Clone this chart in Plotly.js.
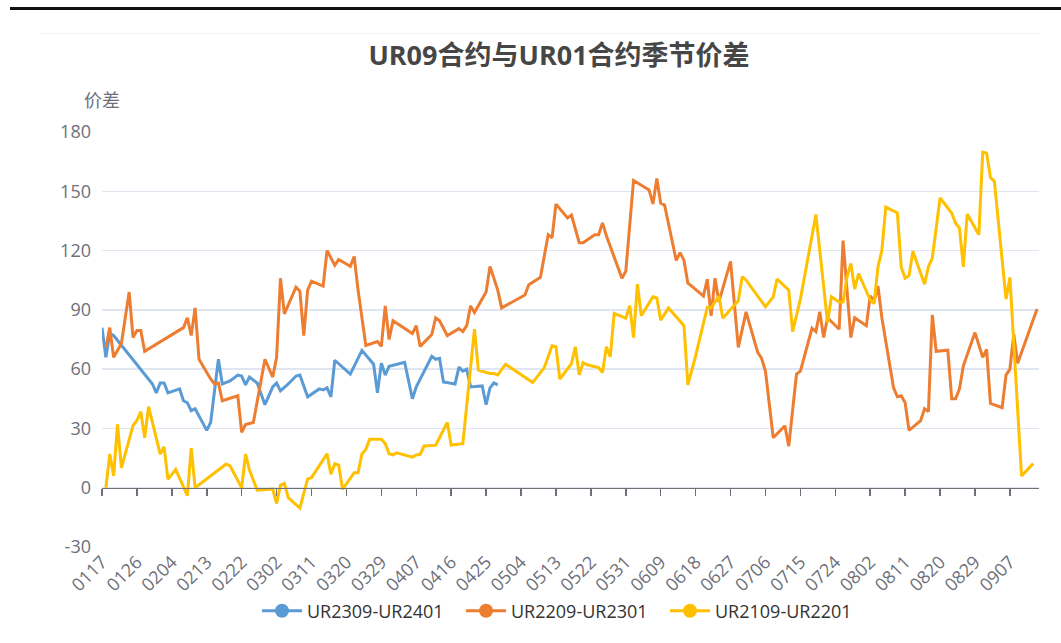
<!DOCTYPE html>
<html><head><meta charset="utf-8">
<script src="https://cdn.plot.ly/plotly-3.0.1.min.js"></script>
<style>
html,body{margin:0;padding:0;background:#fff;}
#chart{position:absolute;left:0;top:0;width:1061px;height:643px;}
#topbar{position:absolute;left:10px;top:7px;width:1051px;height:3px;background:#111;}
#sep{position:absolute;left:40px;top:33px;width:1000px;height:1px;background:#f3f3f3;}
</style></head><body>
<div id="chart"></div><div id="topbar"></div><div id="sep"></div>
<script>
const YEAR = '2020';
const axisStart = '0117';
const axisEnd = '0914';
const tickLabels = ['0117','0126','0204','0213','0222','0302','0311','0320','0329','0407','0416','0425','0504','0513','0522','0531','0609','0618','0627','0706','0715','0724','0802','0811','0820','0829','0907'];
const yTickVals = [-30,0,30,60,90,120,150,180];
const yTickText = ['-30','0','30','60','90','120','150','180'];

const blueName = 'UR2309-UR2401';
const blueDates = ['0117','0118','0119','0120','0130','0131','0201','0202','0203','0206','0207','0208','0209','0210','0213','0214','0216','0217','0219','0221','0222','0223','0224','0226','0228','0301','0302','0303','0305','0307','0308','0310','0313','0314','0315','0316','0317','0321','0324','0327','0328','0329','0330','0331','0404','0406','0407','0411','0412','0413','0414','0417','0418','0419','0420','0421','0424','0425','0426','0427','0428'];
const blueValues = [81,66,78,77,52.5,48,53,53,48,50,44,43,39,40,29,33,65,52.5,54,57,56.5,52,56,53,42,51,53,49,52.5,56.5,57,46,50,49.5,50.5,46,64.5,57.5,69.5,62.5,48,63,57,61.5,63.5,45,51,66.5,65,65.5,53.5,52.5,61,59,60,51,51.5,42,50.5,53,52];

const orangeName = 'UR2209-UR2301';
const orangeDates = ['0118','0119','0120','0122','0124','0125','0126','0127','0128','0207','0208','0209','0210','0211','0214','0215','0216','0217','0221','0222','0223','0225','0228','0301','0302','0303','0304','0307','0308','0309','0310','0311','0314','0315','0317','0318','0321','0322','0323','0325','0328','0329','0330','0331','0401','0406','0407','0408','0411','0412','0413','0415','0418','0419','0420','0421','0422','0425','0426','0428','0429','0505','0506','0509','0511','0512','0513','0516','0517','0519','0520','0523','0524','0525','0526','0530','0531','0602','0606','0607','0608','0609','0610','0613','0614','0615','0616','0617','0620','0621','0622','0623','0624','0627','0629','0701','0704','0705','0706','0708','0711','0712','0714','0715','0718','0719','0720','0721','0722','0725','0726','0727','0728','0729','0801','0802','0803','0804','0805','0808','0809','0810','0811','0812','0815','0816','0817','0818','0819','0822','0823','0824','0825','0826','0829','0831','0901','0902','0905','0906','0907','0908','0909','0914'];
const orangeValues = [71,81,66,73,99,76,79.5,79.5,69,81,86,77,91,65,55,52.5,53,44,46.5,28,32,33,65,56,66,106,88,101.5,99.5,77,100,104.5,102,120,112.5,115.5,112,117,100,72,74,71.5,92,75,84.5,78,82,71.5,77.5,86,84.5,77,80.5,79,82,92,88.7,99,112,100,91,97.5,102.7,106.5,128,126.5,143.5,136.5,138,124,124,128,128,134,127.5,106,109.5,155.5,150.7,143.6,156.5,144,143,115,119,115,103.5,102,97,105.5,87,106,94,114.5,71,89,68.5,65.5,59,25.3,31.3,21,57.5,59,80.7,79,89,76,86,80.2,125,99.7,76,86,82,97,94.6,102,86,50.7,46,46.5,43,29,34,40,38.5,87.5,69,69.6,45,45,50,61.7,78.5,66,70,42.6,40.5,57,60,77.7,63,90.4];

const yellowName = 'UR2109-UR2201';
const yellowDates = ['0118','0119','0120','0121','0122','0125','0126','0127','0128','0129','0201','0202','0203','0205','0208','0209','0210','0218','0219','0222','0223','0224','0226','0301','0302','0303','0304','0305','0308','0310','0311','0315','0316','0317','0318','0319','0322','0323','0324','0325','0326','0329','0330','0331','0401','0402','0406','0407','0408','0409','0412','0413','0415','0416','0419','0422','0423','0426','0427','0428','0430','0507','0510','0512','0513','0514','0517','0518','0519','0520','0521','0524','0525','0526','0527','0528','0531','0601','0602','0603','0604','0607','0608','0609','0611','0615','0616','0618','0621','0622','0624','0625','0629','0630','0701','0706','0708','0709','0712','0713','0715','0719','0722','0723','0725','0726','0727','0728','0729','0730','0802','0803','0804','0805','0806','0809','0810','0811','0812','0813','0816','0817','0818','0820','0823','0824','0825','0826','0827','0830','0831','0901','0902','0903','0906','0907','0910','0913'];
const yellowValues = [0,17,6,32,10,31.5,34,38.5,25.3,41,17,20.7,4.2,9.3,-4,20,0,12,11,0,17,9,-1.3,-0.7,-8,1.2,2.2,-5,-10.3,4.5,5.1,17.2,6.8,12.2,11.5,-0.8,7.6,7.6,17.2,19.4,24.5,24.5,22.3,17.2,16.6,17.7,15.5,16.6,16.9,21.1,21.5,25.3,33,21.6,22.3,80.2,59.5,57.8,57.8,57.1,62.5,53.2,60.8,71.8,71.3,55,62.8,71.3,57.1,63.3,62.2,60.8,58.3,71.3,66.2,88.2,85.8,92.1,76,103,87,96.6,96,84.8,90.9,82,52,66.7,91.2,91,97,85.8,94.6,106.8,105,91.6,96.6,105.6,100,79,95.4,138.2,83.6,96.6,94,94,106.4,113.5,100.5,108.4,95,93.2,111.8,120,142,139,111.5,106,107.3,119.6,103,111.8,116.2,146.6,139,133.8,131.4,111.8,138.5,128,169.8,169.3,157,155,95.4,106.4,6,12.2];

const colors = {blue:'#5B9BD5', orange:'#ED7D31', yellow:'#FFC000'};
const toDate = md => YEAR + '-' + md.slice(0,2) + '-' + md.slice(2);

function series(name, dates, values, color){
  return {
    type:'scatter', mode:'lines', name:name, showlegend:false,
    x: dates.map(toDate), y: values,
    line:{color:color, width:3},
    hoverinfo:'skip'
  };
}
// legend-only entries (no data drawn); they sit on the overlay axis that carries the zero line
function legendEntry(name, color){
  return {
    type:'scatter', mode:'lines+markers', name:name, showlegend:true,
    x:[null], y:[null], xaxis:'x2', yaxis:'y',
    line:{color:color, width:3}, marker:{size:14, color:color},
    hoverinfo:'skip'
  };
}

const data = [
  series(blueName, blueDates, blueValues, colors.blue),
  series(orangeName, orangeDates, orangeValues, colors.orange),
  series(yellowName, yellowDates, yellowValues, colors.yellow),
  legendEntry(blueName, colors.blue),
  legendEntry(orangeName, colors.orange),
  legendEntry(yellowName, colors.yellow)
];

const xRange = [toDate(axisStart), toDate(axisEnd) + ' 12:00'];
const tickVals = tickLabels.map(toDate);
const fontFam = '"Open Sans","Noto Sans CJK SC",sans-serif';

const layout = {
  width:1061, height:643,
  margin:{l:102, r:22, t:132, b:96, pad:0},
  paper_bgcolor:'rgba(0,0,0,0)', plot_bgcolor:'rgba(0,0,0,0)',
  font:{family:fontFam, size:18, color:'#6E7079'},
  hovermode:false,
  title:{text:'UR09合约与UR01合约季节价差', xref:'container', x:559/1061, xanchor:'center',
         yref:'container', y:1-56/643, yanchor:'middle',
         font:{family:fontFam, size:27, color:'#464646', weight:700}},
  showlegend:true,
  legend:{orientation:'h', xref:'container', x:563/1061, xanchor:'center',
          yref:'container', y:1-611/643, yanchor:'middle', itemwidth:40,
          entrywidth:149, entrywidthmode:'pixels',
          font:{family:fontFam, size:18, color:'#333333'},
          bgcolor:'rgba(0,0,0,0)'},
  xaxis:{type:'date', range:xRange, tickmode:'array', tickvals:tickVals, ticktext:tickLabels,
         tickangle:-45, ticks:'', showgrid:false, showline:false, zeroline:false,
         tickfont:{family:fontFam, size:18, color:'#6E7079'}, fixedrange:true},
  xaxis2:{type:'date', overlaying:'x', anchor:'free', position:30/210, range:xRange, autorange:false,
          tickmode:'array', tickvals:tickVals, showticklabels:false, ticks:'outside', ticklen:7,
          tickwidth:1.5, tickcolor:'#6E7079', showline:true, linecolor:'#6E7079', linewidth:1.5,
          showgrid:false, zeroline:false, fixedrange:true},
  yaxis:{range:[-30,180], tickmode:'array', tickvals:yTickVals, ticktext:yTickText,
         showgrid:true, gridcolor:'#E0E6F1', gridwidth:1.5,
         zeroline:false, showline:false, ticks:'', ticklabelstandoff:10,
         tickfont:{family:fontFam, size:18, color:'#6E7079'}, fixedrange:true},
  annotations:[{text:'价差', xref:'paper', yref:'paper', x:0, y:1, xanchor:'center', yanchor:'middle',
                yshift:32, showarrow:false, font:{family:fontFam, size:18, color:'#6E7079'}}]
};

Plotly.newPlot('chart', data, layout, {displayModeBar:false, staticPlot:true});
</script>
</body></html>
